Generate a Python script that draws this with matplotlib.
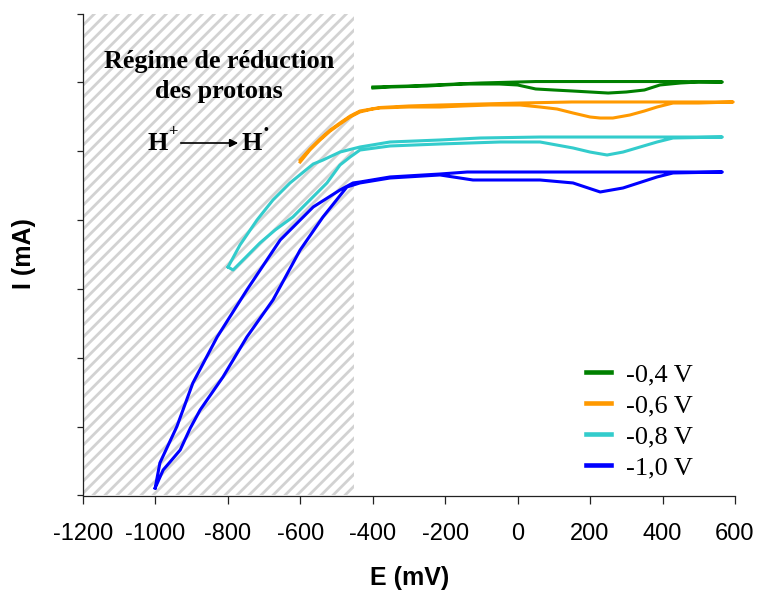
import numpy as np
import matplotlib
matplotlib.use("Agg")
import matplotlib.pyplot as plt
from matplotlib.patches import Rectangle, FancyArrowPatch
from matplotlib.lines import Line2D

plt.rcParams["axes.unicode_minus"] = False

# ------------------------------------------------------------
# Data (E in mV, I in axis units, 0 = top)
# ------------------------------------------------------------
labels = ["-0,4 V", "-0,6 V", "-0,8 V", "-1,0 V"]
colors = ["#008000", "#ff9900", "#33cccc", "#0000ff"]

E_04 = [-399, -350, -300, -250, -200, -150, -100, -50, 0, 50, 100, 150, 200,
        250, 300, 350, 393, 450, 500, 565,
        450, 300, 150, 50, 0, -100, -200, -300, -399]
I_04 = [-1.082, -1.067, -1.060, -1.053, -1.038, -1.024, -1.024, -1.024, -1.038,
        -1.096, -1.111, -1.125, -1.140, -1.155, -1.140, -1.111, -1.038, -1.009,
        -0.995, -0.995,
        -0.988, -0.988, -0.988, -0.988, -0.995, -1.009, -1.031, -1.053, -1.067]

E_06 = [-600, -573, -545, -517, -490, -462, -435, -400, -379, -300, -214, -150,
        -76, 7, 62, 109, 153, 200, 228, 263, 310, 350, 385, 429, 500, 595,
        450, 300, 150, 7, -100, -214, -300, -379, -435, -462, -490, -517,
        -545, -573, -600]
I_06 = [-2.157, -1.982, -1.837, -1.706, -1.605, -1.503, -1.430, -1.387, -1.372,
        -1.358, -1.358, -1.343, -1.329, -1.329, -1.358, -1.387, -1.445, -1.503,
        -1.518, -1.518, -1.474, -1.416, -1.358, -1.300, -1.300, -1.285,
        -1.285, -1.285, -1.285, -1.300, -1.314, -1.329, -1.343, -1.365, -1.416,
        -1.489, -1.590, -1.692, -1.823, -1.968, -2.127]

E_08 = [-799, -785, -752, -711, -669, -620, -573, -526, -490, -462, -435, -352,
        -214, -48, 62, 153, 200, 247, 291, 338, 385, 429, 565,
        228, 62, -103, -214, -352, -435, -490, -537, -564, -628, -675, -719,
        -766, -799]
I_08 = [-3.682, -3.725, -3.551, -3.333, -3.144, -2.955, -2.708, -2.461, -2.200,
        -2.084, -1.983, -1.924, -1.895, -1.866, -1.866, -1.953, -2.012, -2.055,
        -2.012, -1.939, -1.866, -1.808, -1.794,
        -1.794, -1.794, -1.808, -1.837, -1.866, -1.939, -2.012, -2.128, -2.186,
        -2.461, -2.708, -2.999, -3.362, -3.682]

E_10 = [-1000, -978, -959, -931, -903, -876, -813, -747, -675, -600, -537, -471,
        -435, -352, -214, -123, 62, 153, 228, 291, 385, 429, 565,
        228, -139, -214, -352, -435, -454, -490, -564, -655, -747, -829, -896,
        -940, -987, -1000]
I_10 = [-6.891, -6.629, -6.513, -6.339, -6.020, -5.758, -5.279, -4.698, -4.161,
        -3.435, -2.955, -2.520, -2.461, -2.389, -2.345, -2.418, -2.418, -2.461,
        -2.592, -2.534, -2.374, -2.316, -2.302,
        -2.302, -2.302, -2.331, -2.374, -2.447, -2.461, -2.563, -2.810, -3.289,
        -4.015, -4.698, -5.366, -5.997, -6.527, -6.891]

series_E = [E_04, E_06, E_08, E_10]
series_I = [I_04, I_06, I_08, I_10]

x_ticks = [-1200, -1000, -800, -600, -400, -200, 0, 200, 400, 600]
y_ticks = [-7, -6, -5, -4, -3, -2, -1, 0]
proton_region = (-1200, -450)

W, H = 758, 591
fig = plt.figure(figsize=(W / 100, H / 100), dpi=100)
ax = fig.add_axes([82.7 / W, 1 - 495.5 / H, (735 - 82.7) / W, (495.5 - 13.5) / H])

# ------------------------------------------------------------
# Hatched proton-reduction region
# ------------------------------------------------------------
clip = Rectangle((proton_region[0], y_ticks[0]), proton_region[1] - proton_region[0],
                 y_ticks[-1] - y_ticks[0], facecolor="white", edgecolor="none", zorder=0)
ax.add_patch(clip)
ax_w_px = 735 - 82.7
ax_h_px = 495.5 - 13.5
step = 12.0 / ax_w_px
u = -ax_h_px / ax_w_px
while u < 0.45:
    ln = Line2D([u, u + ax_h_px / ax_w_px], [0, 1], transform=ax.transAxes,
                color="#d2d2d2", lw=2.0, zorder=1)
    ax.add_line(ln)
    ln.set_clip_path(clip)
    u += step

# ------------------------------------------------------------
# Curves
# ------------------------------------------------------------
for E, I, lab, col in zip(series_E, series_I, labels, colors):
    ax.plot(E, I, color=col, lw=2.2, label=lab, zorder=3, solid_joinstyle="round")

ax.set_xlim(x_ticks[0], x_ticks[-1])
ax.set_ylim(y_ticks[0], y_ticks[-1])
ax.set_xticks(x_ticks)
ax.set_xticklabels([str(v) for v in x_ticks])
ax.set_yticks(y_ticks)
ax.set_yticklabels([])

for side in ["top", "right"]:
    ax.spines[side].set_visible(False)
for side in ["left", "bottom"]:
    ax.spines[side].set_linewidth(0.9)
    ax.spines[side].set_color("#222222")

ax.tick_params(axis="x", direction="out", length=6, width=0.9, pad=14,
               labelsize=17, colors="#222222", labelcolor="black")
ax.tick_params(axis="y", direction="out", length=4.5, width=0.9, colors="#222222")
for t in ax.get_xticklabels():
    t.set_fontfamily("Liberation Sans")

fig.text(410 / W, 1 - 578 / H, "E (mV)", ha="center", va="center",
         fontsize=18, fontweight="bold", family="Liberation Sans")
fig.text(24 / W, 1 - 254 / H, "I (mA)", ha="center", va="center", rotation=90,
         fontsize=18, fontweight="bold", family="Liberation Sans")

# annotation in the hatched region
fig.text(219 / W, 1 - 68 / H, "Régime de réduction", ha="center", va="baseline",
         fontsize=18.8, fontweight="bold", family="Liberation Serif")
fig.text(219 / W, 1 - 98 / H, "des protons", ha="center", va="baseline",
         fontsize=18.8, fontweight="bold", family="Liberation Serif")
fig.text(158 / W, 1 - 150 / H, "H", ha="center", va="baseline",
         fontsize=18.8, fontweight="bold", family="Liberation Serif")
fig.text(173 / W, 1 - 136 / H, "+", ha="center", va="baseline",
         fontsize=12, fontweight="bold", family="Liberation Serif")
fig.text(252 / W, 1 - 150 / H, "H", ha="center", va="baseline",
         fontsize=18.8, fontweight="bold", family="Liberation Serif")
fig.text(266 / W, 1 - 134 / H, "•", ha="center", va="baseline",
         fontsize=10, fontweight="bold", family="Liberation Serif")
fig.add_artist(FancyArrowPatch(
    (178 / W, 1 - 143 / H), (241 / W, 1 - 143 / H), transform=fig.transFigure,
    arrowstyle="-|>", mutation_scale=12, lw=1.2, color="black"))

leg = ax.legend(loc="upper left", bbox_to_anchor=(586 / W, 1 - 363 / H),
                bbox_transform=fig.transFigure, frameon=False,
                prop={"family": "Liberation Serif", "size": 19},
                handlelength=0.95, handletextpad=0.55, labelspacing=0.28,
                borderpad=0, borderaxespad=0)
for h in leg.get_lines():
    h.set_linewidth(3.3)

fig.savefig("out.png", dpi=100)
